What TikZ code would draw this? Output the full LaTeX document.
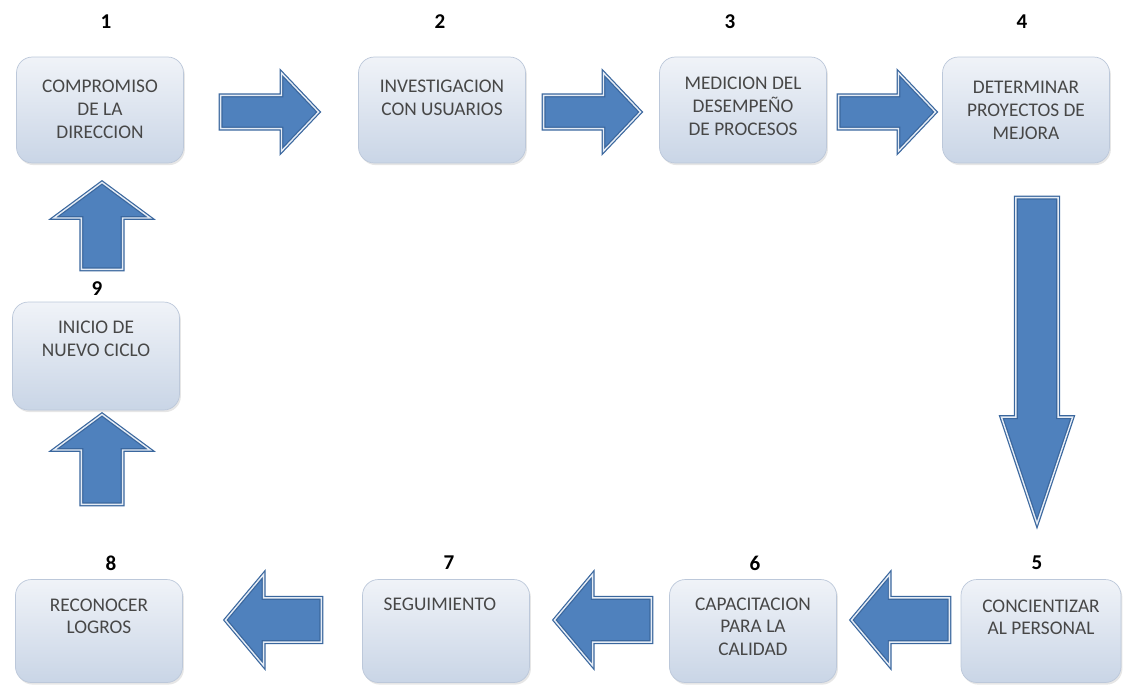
\documentclass[tikz,border=0pt]{standalone}
\usepackage{fontspec}
\newfontfamily\boxfont{Carlito}
\usepackage{xcolor}
\usetikzlibrary{shapes.arrows}
\usetikzlibrary{shadows}
\usetikzlibrary{positioning}
\definecolor{arrowfill}{HTML}{4F81BD}
\definecolor{arrowline}{HTML}{3A679E}
\definecolor{boxtop}{HTML}{F0F3F8}
\definecolor{boxbottom}{HTML}{C9D5E6}
\definecolor{boxline}{HTML}{BCC8DA}

\begin{document}
\begin{tikzpicture}[x=0.02cm,y=-0.02cm,
  stepbox/.style={rectangle,rounded corners=9pt,minimum width=3.34cm,minimum height=2.12cm,
    top color=boxtop,bottom color=boxbottom,draw=boxline,
    drop shadow={opacity=0.2,shadow xshift=0.8pt,shadow yshift=-1.2pt}},
  steptext/.style={font=\boxfont\fontsize{11}{13}\selectfont,text=black!72,align=center,inner sep=0pt},
  stepnum/.style={font=\boxfont\bfseries\fontsize{12}{14}\selectfont},
  blockarrow/.style={single arrow,anchor=tail,fill=arrowfill,draw=arrowline,
    line width=0.7pt,double=white!85!arrowfill,double distance=0.8pt},
  harrow/.style={blockarrow,inner sep=0.32cm,single arrow head extend=0.45cm,single arrow tip angle=93},
  larrow/.style={blockarrow,shape border rotate=180,inner sep=0.43cm,single arrow head extend=0.47cm,single arrow tip angle=100},
  uarrow/.style={blockarrow,shape border rotate=90,inner sep=0.4cm,single arrow head extend=0.55cm,single arrow tip angle=107}
]
\useasboundingbox (0,0) rectangle (1124,684);

% boxes
\node[stepbox] (b1) at (100,110) {};
\node[stepbox] (b2) at (442,110) {};
\node[stepbox] (b3) at (743,110) {};
\node[stepbox] (b4) at (1026,110) {};
\node[stepbox,minimum width=3.2cm,minimum height=2.06cm] (b5) at (1041,631) {};
\node[stepbox,minimum height=2.06cm] (b6) at (753,631) {};
\node[stepbox,minimum height=2.06cm] (b7) at (446,631) {};
\node[stepbox,minimum height=2.06cm] (b8) at (99,631) {};
\node[stepbox,minimum height=2.16cm] (b9) at (96,356) {};

\node[steptext,below=0.46cm of b1.north] (t1) {COMPROMISO\\DE LA\\DIRECCION};
\node[steptext,below=0.46cm of b2.north] (t2) {INVESTIGACION\\CON USUARIOS};
\node[steptext,below=0.4cm of b3.north] (t3) {MEDICION DEL\\DESEMPEÑO\\DE PROCESOS};
\node[steptext,below=0.48cm of b4.north] (t4) {DETERMINAR\\PROYECTOS DE\\MEJORA};
\node[steptext,below=0.4cm of b5.north] (t5) {CONCIENTIZAR\\AL PERSONAL};
\node[steptext,below=0.36cm of b6.north] (t6) {CAPACITACION\\PARA LA\\CALIDAD};
\node[steptext,below=0.36cm of b7.north,xshift=-0.12cm] (t7) {SEGUIMIENTO};
\node[steptext,below=0.38cm of b8.north] (t8) {RECONOCER\\LOGROS};
\node[steptext,below=0.38cm of b9.north] (t9) {INICIO DE\\NUEVO CICLO};

% numbers
\node[stepnum] (n1) at (106,22) {1};
\node[stepnum] (n2) at (440,22) {2};
\node[stepnum] (n3) at (730,22) {3};
\node[stepnum] (n4) at (1022,22) {4};
\node[stepnum] (n5) at (1037,563) {5};
\node[stepnum] (n6) at (755,563) {6};
\node[stepnum] (n7) at (449,563) {7};
\node[stepnum] (n8) at (111,563) {8};
\node[stepnum] (n9) at (97,289) {9};

% arrows
\node[harrow,minimum height=1.96cm] (a12) at (220,112) {};
\node[harrow,minimum height=1.94cm] (a23) at (543,112) {};
\node[harrow,minimum height=1.94cm] (a34) at (838,112) {};
\node[blockarrow,shape border rotate=270,minimum height=6.52cm,inner sep=0.41cm,
  single arrow head extend=0.29cm,single arrow tip angle=37] (a45) at (1037,197) {};
\node[larrow,minimum height=1.96cm] (a56) at (950,620) {};
\node[larrow,minimum height=1.94cm] (a67) at (652,620) {};
\node[larrow,minimum height=1.92cm] (a78) at (322,620) {};
\node[uarrow,minimum height=1.8cm] (a89) at (102,505) {};
\node[uarrow,minimum height=1.74cm] (a91) at (102,270) {};
\end{tikzpicture}
\end{document}
